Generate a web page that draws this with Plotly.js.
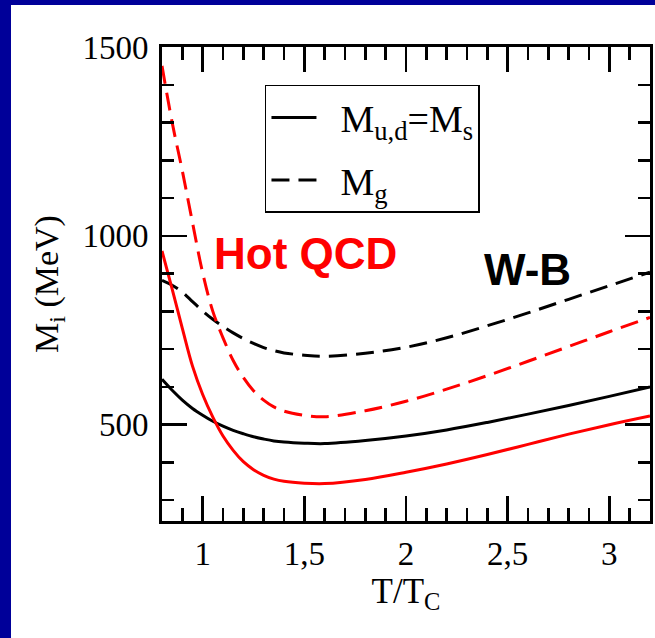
<!DOCTYPE html>
<html>
<head>
<meta charset="utf-8">
<script src="https://cdn.plot.ly/plotly-3.0.1.min.js"></script>
<style>
  html, body { margin: 0; padding: 0; width: 655px; height: 638px; overflow: hidden; background: #000099; }
  #chart { position: absolute; left: 11px; top: 5px; width: 644px; height: 633px; background: #ffffff; }
</style>
</head>
<body>
<div id="chart"></div>
<script>
// T/Tc sample points
const tRatio = [0.8, 0.85, 0.9, 0.95, 1.0, 1.05, 1.1, 1.15, 1.2, 1.25, 1.3, 1.35, 1.4, 1.5, 1.6, 1.8, 2.0, 2.2, 2.4, 2.6, 2.8, 3.0, 3.2];

// Hot QCD (red)
const hotQuark = [960, 859, 755, 655, 580, 520, 470, 432, 402, 381, 366, 356, 350, 345, 344, 355, 374, 396, 421, 448, 475, 500, 523];
const hotGluon = [1450, 1300, 1172, 1035, 902, 800, 730, 670, 625, 590, 565, 547, 536, 525, 521, 537, 562, 594, 630, 668, 707, 746, 784];

// W-B (black)
const wbQuark = [620, 591, 565, 543, 525, 509, 496, 485, 476, 468, 462, 457, 454, 451, 450, 458, 470, 486, 506, 528, 551, 575, 600];
const wbGluon = [882, 869, 851, 826, 801, 779, 760, 743, 728, 715, 704, 696, 690, 684, 681, 689, 705, 730, 762, 796, 832, 868, 904];

// Axis ticks
const xTickVals = [1, 1.5, 2, 2.5, 3];
const xTickText = ["1", "1,5", "2", "2,5", "3"];
const yTickVals = [500, 1000, 1500];
const yTickText = ["500", "1000", "1500"];

// Legend / annotation texts
const legendNames = ["M<sub>u,d</sub>=M<sub>s</sub>", "M<sub>g</sub>"];
const labelHot = "Hot QCD";
const labelWB = "W-B";

const serif = "Liberation Serif, Times New Roman, serif";
const sans = "Liberation Sans, Arial, sans-serif";
const gap = "&nbsp;&nbsp;";

const traces = [
  { x: tRatio, y: wbQuark, mode: "lines", name: gap + legendNames[0], legendgroup: "a",
    line: { color: "#000000", width: 3, shape: "spline" } },
  { x: tRatio, y: wbGluon, mode: "lines", name: gap + legendNames[1], legendgroup: "b",
    line: { color: "#000000", width: 3, dash: "18px,9px", shape: "spline" } },
  { x: tRatio, y: hotQuark, mode: "lines", showlegend: false,
    line: { color: "#ff0000", width: 3, shape: "spline" } },
  { x: tRatio, y: hotGluon, mode: "lines", showlegend: false,
    line: { color: "#ff0000", width: 3, dash: "18px,9px", shape: "spline" } }
];

const axisCommon = {
  showline: true, linecolor: "#000000", linewidth: 3, mirror: "ticks",
  ticks: "inside", ticklen: 25, tickwidth: 2.5, tickcolor: "#000000",
  showgrid: false, zeroline: false,
  tickfont: { family: serif, size: 33, color: "#000000" }
};

const layout = {
  width: 644, height: 633,
  margin: { l: 151, r: 5, t: 42, b: 117 },
  paper_bgcolor: "#ffffff", plot_bgcolor: "#ffffff",
  showlegend: true,
  legend: {
    x: 0.211, y: 0.92, xanchor: "left", yanchor: "top",
    bgcolor: "#ffffff", bordercolor: "#000000", borderwidth: 1.5,
    font: { family: serif, size: 38, color: "#000000" },
    itemwidth: 45, tracegroupgap: 10
  },
  xaxis: Object.assign({}, axisCommon, {
    range: [0.8, 3.2], tickmode: "array", tickvals: xTickVals, ticktext: xTickText,
    minor: { dtick: 0.1, tick0: 0, ticks: "inside", ticklen: 13, tickwidth: 2.5, tickcolor: "#000000", showgrid: false },
    ticklabelstandoff: 1,
    title: { text: "T/T<sub>C</sub>", font: { family: serif, size: 35, color: "#000000" }, standoff: 6 }
  }),
  yaxis: Object.assign({}, axisCommon, {
    range: [245, 1500], tickmode: "array", tickvals: yTickVals, ticktext: yTickText,
    minor: { dtick: 100, tick0: 0, ticks: "inside", ticklen: 12, tickwidth: 2.5, tickcolor: "#000000", showgrid: false },
    ticklabelstandoff: 4,
    title: { text: "M<sub>i</sub> (MeV)", font: { family: serif, size: 34, color: "#000000" }, standoff: 14 }
  }),
  annotations: [
    { xref: "paper", yref: "paper", x: 0.295, y: 0.565, xanchor: "center", yanchor: "middle",
      text: "<b>" + labelHot + "</b>", showarrow: false,
      font: { family: sans, size: 44, color: "#ff0000" } },
    { xref: "paper", yref: "paper", x: 0.748, y: 0.530, xanchor: "center", yanchor: "middle",
      text: "<b>" + labelWB + "</b>", showarrow: false,
      font: { family: sans, size: 44, color: "#000000" } }
  ]
};

Plotly.newPlot("chart", traces, layout, { displayModeBar: false, staticPlot: true });
</script>
</body>
</html>
